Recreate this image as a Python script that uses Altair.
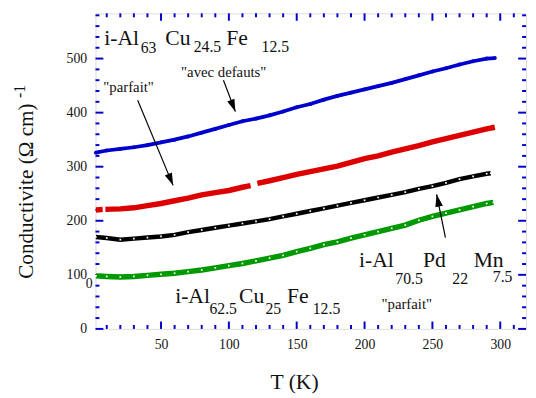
import altair as alt
import pandas as pd

# ---------------- data ----------------
T_blue = [2, 10, 20, 30, 40, 50, 60, 70, 80, 90, 100, 110, 120, 130, 140, 150,
          160, 170, 180, 190, 200, 210, 220, 230, 240, 250, 260, 270, 280, 290, 296]
blue = [326, 330, 333, 336, 340, 345, 350, 356, 363, 370, 377, 384, 389, 395, 402, 410,
        416, 424, 431, 437, 443, 449, 455, 462, 469, 476, 482, 489, 495, 500, 501]

T_red = [2, 7, 9, 20, 30, 40, 50, 60, 70, 80, 90, 100, 110, 116,
         121, 130, 140, 150, 160, 170, 180, 190, 200, 210, 220, 230, 240, 250, 260, 270, 280, 290, 296]
red = [220, 221, 221, 222, 224, 228, 232, 237, 242, 248, 252, 256, 262, 265,
       269, 274, 280, 286, 291, 296, 301, 308, 315, 320, 327, 333, 339, 346, 352, 358, 364, 370, 373]
red_breaks = [8, 118]

T_black = [2, 10, 20, 30, 40, 50, 60, 70, 80, 90, 100, 110, 120, 130, 140, 150,
           160, 170, 180, 190, 200, 210, 220, 230, 240, 250, 260, 270, 280, 290, 293]
black = [170, 168, 165, 167, 169, 171, 174, 179, 183, 187, 191, 195, 199, 203, 208, 213,
         218, 223, 228, 233, 238, 243, 248, 253, 259, 264, 270, 277, 282, 287, 288]

T_green = [2, 10, 20, 30, 40, 50, 60, 70, 80, 90, 100, 110, 120, 130, 140, 150,
           160, 170, 180, 190, 200, 210, 220, 230, 240, 250, 260, 270, 280, 290, 295]
green = [98, 97, 96, 97, 99, 101, 103, 106, 109, 113, 117, 121, 126, 131, 136, 143,
         149, 156, 161, 168, 174, 180, 186, 192, 201, 208, 214, 220, 226, 232, 234]

x_major = [50, 100, 150, 200, 250, 300]
x_minor = [t for t in range(10, 320, 10) if t % 50 != 0]
y_major = [0, 100, 200, 300, 400, 500]
y_minor = [v for v in range(20, 584, 20) if v % 100 != 0]

# annotations: text, T, value, font size (data units)
ann_text = ["i-Al", "63", "Cu", "24.5", "Fe", "12.5",
            "\"avec defauts\"", "\"parfait\"",
            "i-Al", "62.5", "Cu", "25", "Fe", "12.5", "\"parfait\"",
            "i-Al", "70.5", "Pd", "22", "Mn", "7.5"]
ann_T = [8.2, 35.0, 53.1, 74.1, 98.0, 124.1,
         64.8, 7.5,
         60.4, 85.7, 107.5, 127.0, 142.9, 161.8, 212.5,
         195.9, 222.7, 243.0, 264.7, 280.4, 294.5]
ann_v = [525.5, 510.9, 525.5, 512.7, 525.5, 512.7,
         465.5, 438.0,
         47.3, 27.3, 47.3, 27.3, 47.3, 27.3, 36.4,
         114.5, 82.7, 114.5, 82.7, 114.5, 87.5]
ann_size = [22, 16, 22, 16, 22, 16,
            15, 15,
            22, 16, 22, 16, 22, 16, 15,
            22, 16, 22, 16, 22, 16]

# arrows: start (T, v) -> tip (T, v), head angle
arr_T0 = [96.0, 32.8, 259.6]
arr_v0 = [460.0, 423.0, 169.0]
arr_T1 = [104.8, 58.9, 253.1]
arr_v1 = [401.8, 265.5, 249.0]
arr_angle = [158.5, 157.5, 348.4]

# ---------------- chart ----------------
FONT = "Liberation Serif, DejaVu Serif, serif"
AXC = "#0000cc"
W, H = 438, 321

xscale = alt.Scale(domain=[1.7, 319], nice=False, zero=False)
yscale = alt.Scale(domain=[0, 583.6], nice=False, zero=False)
xaxis = alt.Axis(values=x_major, ticks=False, tickSize=0, domain=False, grid=False,
                 labelFont=FONT, labelFontSize=14, labelColor="#111", labelPadding=9,
                 labelFlush=False, title=None)
yaxis = alt.Axis(values=y_major, ticks=False, tickSize=0, domain=False, grid=False,
                 labelFont=FONT, labelFontSize=14, labelColor="#111", labelPadding=9,
                 labelFlush=False, title=None)


def X(f="T"):
    return alt.X(f"{f}:Q", scale=xscale, axis=xaxis)


def Y(f="v"):
    return alt.Y(f"{f}:Q", scale=yscale, axis=yaxis)


def series_df(Ts, vs, breaks=()):
    return pd.DataFrame({"T": Ts, "v": vs,
                         "seg": [sum(1 for b in breaks if t > b) for t in Ts]})


df_blue = series_df(T_blue, blue)
df_red = series_df(T_red, red, red_breaks)
df_black = series_df(T_black, black)
df_green = series_df(T_green, green)

layers = []


def tick_layers(vals, length):
    d = pd.DataFrame({"t": vals})
    return [
        alt.Chart(d).mark_rule(color=AXC, strokeWidth=2).encode(
            x=X("t"), y=alt.value(H), y2=alt.value(H - length)),
        alt.Chart(d).mark_rule(color=AXC, strokeWidth=2).encode(
            x=X("t"), y=alt.value(0), y2=alt.value(length)),
    ]


def ytick_layers(vals, length):
    d = pd.DataFrame({"t": vals})
    return [
        alt.Chart(d).mark_rule(color=AXC, strokeWidth=2).encode(
            y=Y("t"), x=alt.value(0), x2=alt.value(length)),
        alt.Chart(d).mark_rule(color=AXC, strokeWidth=2).encode(
            y=Y("t"), x=alt.value(W), x2=alt.value(W - length)),
    ]


layers += tick_layers(x_major, 7.5) + tick_layers(x_minor, 4)
layers += ytick_layers(y_major, 8) + ytick_layers(y_minor, 4)

# series
layers.append(alt.Chart(df_blue).mark_line(color=AXC, strokeWidth=3.8).encode(x=X(), y=Y()))
layers.append(alt.Chart(df_blue).mark_point(color=AXC, filled=True, size=16, opacity=1).encode(x=X(), y=Y()))

layers.append(alt.Chart(df_red).mark_line(color="#dd0000", strokeWidth=5.5, strokeCap="butt").encode(
    x=X(), y=Y(), detail="seg:N"))

layers.append(alt.Chart(df_black).mark_line(color="#000000", strokeWidth=4.5).encode(x=X(), y=Y()))
layers.append(alt.Chart(df_black).mark_point(color="#ffffff", filled=True, size=3, shape="square", opacity=1).encode(
    x=X(), y=Y()))

layers.append(alt.Chart(df_green).mark_line(color="#009900", strokeWidth=5.5, strokeCap="butt").encode(x=X(), y=Y()))
layers.append(alt.Chart(df_green).mark_point(color="#ffffff", filled=True, size=3, shape="square", opacity=1).encode(
    x=X(), y=Y()))

# annotations
ann = pd.DataFrame({"text": ann_text, "T": ann_T, "v": ann_v, "size": ann_size})
layers.append(alt.Chart(ann).mark_text(font=FONT, align="left", baseline="alphabetic", color="#111").encode(
    x=X(), y=Y(), text="text:N", size=alt.Size("size:Q", scale=None, legend=None)))

arr = pd.DataFrame({"T0": arr_T0, "v0": arr_v0, "T1": arr_T1, "v1": arr_v1, "angle": arr_angle})
layers.append(alt.Chart(arr).mark_rule(color="#000", strokeWidth=1.2).encode(
    x=X("T0"), y=Y("v0"), x2="T1:Q", y2="v1:Q"))
layers.append(alt.Chart(arr).mark_point(
    shape="M0,0L-0.65,2.1L0.65,2.1Z", filled=True, color="#000", size=144, opacity=1).encode(
    x=X("T1"), y=Y("v1"), angle=alt.Angle("angle:Q", scale=None)))

# titles and stray label (pixel positions relative to plot origin)
titles = pd.DataFrame({"k": [0]})
layers.append(alt.Chart(titles).mark_text(font=FONT, fontSize=21.5, angle=270, align="left",
                                          baseline="alphabetic", color="#111",
                                          text="Conductivite (\u03a9 cm)").encode(
    x=alt.value(-64), y=alt.value(270)))
layers.append(alt.Chart(titles).mark_text(font=FONT, fontSize=16, angle=270, align="left",
                                          baseline="alphabetic", color="#111", text="-1").encode(
    x=alt.value(-72), y=alt.value(86)))
layers.append(alt.Chart(titles).mark_text(font=FONT, fontSize=22, align="left",
                                          baseline="alphabetic", color="#111", text="T (K)").encode(
    x=alt.value(178), y=alt.value(381.7)))
layers.append(alt.Chart(titles).mark_text(font=FONT, fontSize=14, align="left",
                                          baseline="alphabetic", color="#111", text="0").encode(
    x=alt.value(-10), y=alt.value(279)))

chart = alt.layer(*layers).properties(
    width=W, height=H,
    autosize=alt.AutoSizeParams(type="none"),
    padding={"left": 89, "top": 2, "right": 2, "bottom": 77},
).configure_view(stroke=AXC, strokeWidth=3).configure(background="white")

chart.save("out.html", embed_options={"renderer": "svg", "actions": False})
